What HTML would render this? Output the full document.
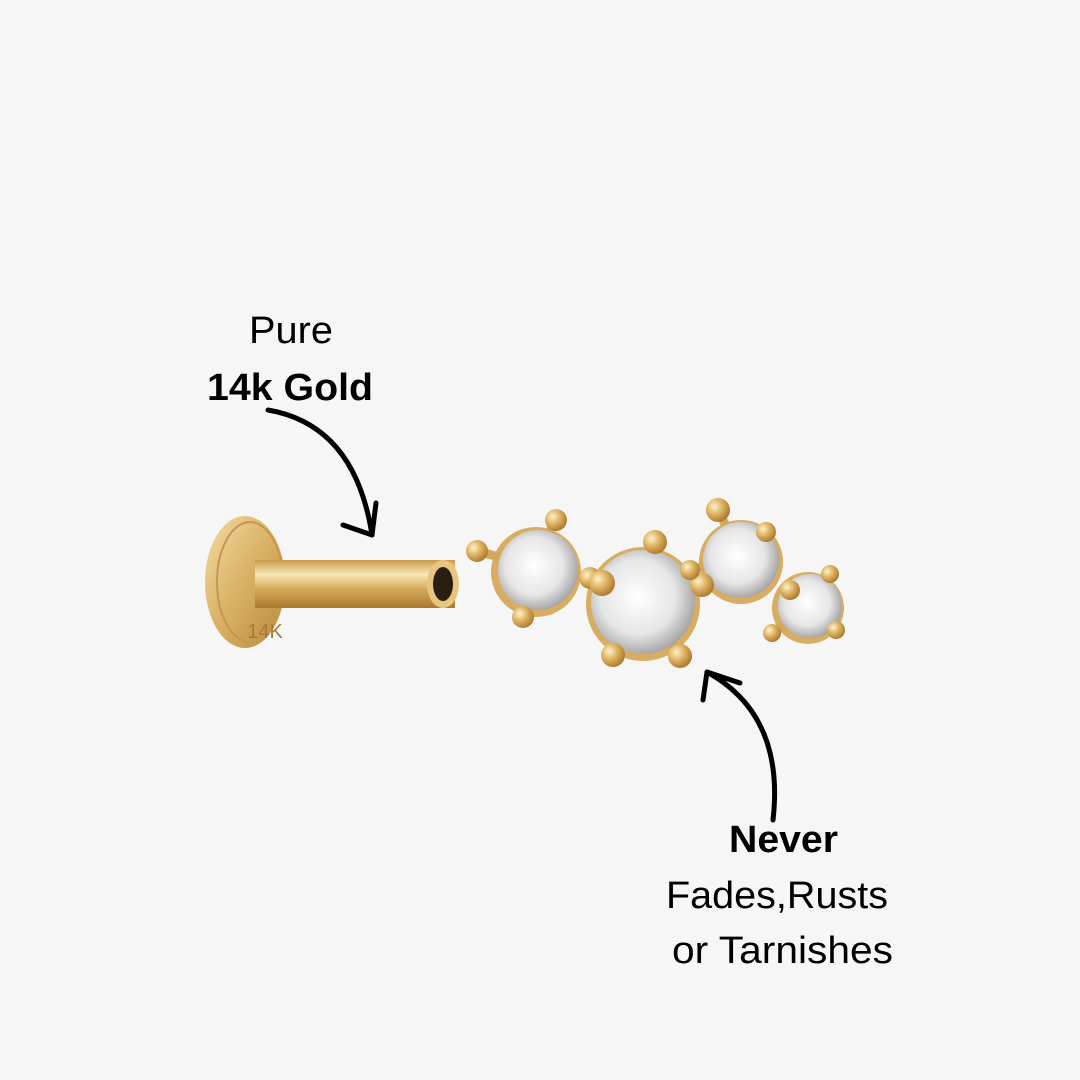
<!DOCTYPE html>
<html><head><meta charset="utf-8"><style>
html,body{margin:0;padding:0;background:#f6f6f6;}
svg{display:block}
text{font-family:"Liberation Sans",Arial,sans-serif;fill:#000}
</style></head><body>
<svg width="1080" height="1080" viewBox="0 0 1080 1080" xmlns="http://www.w3.org/2000/svg">
<defs>
<linearGradient id="g1" x1="0" y1="0" x2="1" y2="1">
<stop offset="0" stop-color="#f3dca0"/><stop offset="0.5" stop-color="#d9b064"/><stop offset="1" stop-color="#b98a3e"/></linearGradient>
<linearGradient id="post" x1="0" y1="0" x2="0" y2="1">
<stop offset="0" stop-color="#c89a4c"/><stop offset="0.3" stop-color="#f8e7b4"/><stop offset="0.6" stop-color="#d7ab5c"/><stop offset="1" stop-color="#a9782e"/></linearGradient>
<radialGradient id="stone" cx="0.45" cy="0.45" r="0.6">
<stop offset="0" stop-color="#ffffff"/><stop offset="0.6" stop-color="#e6e6e6"/><stop offset="1" stop-color="#9a9a9a"/></radialGradient>
<radialGradient id="prong" cx="0.35" cy="0.35" r="0.7">
<stop offset="0" stop-color="#fff2c8"/><stop offset="0.5" stop-color="#dcb060"/><stop offset="1" stop-color="#a8782c"/></radialGradient>
</defs>
<rect width="1080" height="1080" fill="#f6f6f6"/>
<text x="249" y="343" font-size="38" textLength="84" lengthAdjust="spacingAndGlyphs">Pure</text>
<text x="207" y="400" font-size="38" font-weight="bold" textLength="166" lengthAdjust="spacingAndGlyphs">14k Gold</text>
<text x="729" y="852" font-size="38" font-weight="bold" textLength="109" lengthAdjust="spacingAndGlyphs">Never</text>
<text x="666" y="908" font-size="38" textLength="222" lengthAdjust="spacingAndGlyphs">Fades,Rusts</text>
<text x="672" y="963" font-size="38" textLength="221" lengthAdjust="spacingAndGlyphs">or Tarnishes</text>
<path d="M268 410 Q355 425 372 535" fill="none" stroke="#000" stroke-width="5" stroke-linecap="round"/>
<path d="M343 525 L372 535 L376 503" fill="none" stroke="#000" stroke-width="5" stroke-linecap="round" stroke-linejoin="round"/>
<path d="M773 820 Q785 715 707 672" fill="none" stroke="#000" stroke-width="5" stroke-linecap="round"/>
<path d="M740 683 L707 672 L703 700" fill="none" stroke="#000" stroke-width="5" stroke-linecap="round" stroke-linejoin="round"/>
<ellipse cx="245" cy="582" rx="40" ry="66" fill="url(#g1)"/>
<ellipse cx="250" cy="582" rx="33" ry="60" fill="none" stroke="#c49650" stroke-width="2"/>
<text x="265" y="638" font-size="20" style="fill:#a87a38" text-anchor="middle">14K</text>
<rect x="255" y="560" width="200" height="48" fill="url(#post)"/>
<ellipse cx="443" cy="584" rx="16" ry="24" fill="#e8c680"/>
<ellipse cx="443" cy="584" rx="10" ry="17" fill="#2a1e10"/>
<g>
<g fill="#d8ad62">
<circle cx="536" cy="572" r="45"/><circle cx="741" cy="562" r="42"/><circle cx="808" cy="608" r="36"/><circle cx="643" cy="604" r="57"/>
</g>
<g stroke="#d4a85c" stroke-width="9" stroke-linecap="round">
<line x1="477" y1="551" x2="510" y2="560"/><line x1="556" y1="520" x2="545" y2="540"/><line x1="523" y1="617" x2="530" y2="598"/><line x1="590" y1="578" x2="570" y2="575"/>
<line x1="602" y1="583" x2="615" y2="595"/><line x1="655" y1="542" x2="650" y2="560"/><line x1="613" y1="655" x2="625" y2="635"/><line x1="680" y1="656" x2="668" y2="638"/><line x1="702" y1="585" x2="685" y2="595"/>
<line x1="718" y1="510" x2="728" y2="530"/><line x1="766" y1="532" x2="755" y2="545"/><line x1="690" y1="570" x2="710" y2="565"/>
<line x1="790" y1="590" x2="800" y2="598"/><line x1="830" y1="574" x2="820" y2="590"/><line x1="836" y1="630" x2="822" y2="620"/><line x1="772" y1="633" x2="790" y2="622"/>
</g>
<circle cx="538" cy="570" r="40" fill="url(#stone)"/>
<circle cx="741" cy="560" r="38" fill="url(#stone)"/>
<circle cx="810" cy="606" r="32" fill="url(#stone)"/>
<circle cx="643" cy="602" r="52" fill="url(#stone)"/>
<g fill="url(#prong)">
<circle cx="477" cy="551" r="11"/><circle cx="556" cy="520" r="11"/><circle cx="523" cy="617" r="11"/><circle cx="590" cy="578" r="11"/>
<circle cx="602" cy="583" r="13"/><circle cx="655" cy="542" r="12"/><circle cx="613" cy="655" r="12"/><circle cx="680" cy="656" r="12"/><circle cx="702" cy="585" r="12"/>
<circle cx="718" cy="510" r="12"/><circle cx="690" cy="570" r="10"/><circle cx="766" cy="532" r="10"/>
<circle cx="790" cy="590" r="10"/><circle cx="830" cy="574" r="9"/><circle cx="836" cy="630" r="9"/><circle cx="772" cy="633" r="9"/>
</g>
</g>
</svg>
</body></html>
